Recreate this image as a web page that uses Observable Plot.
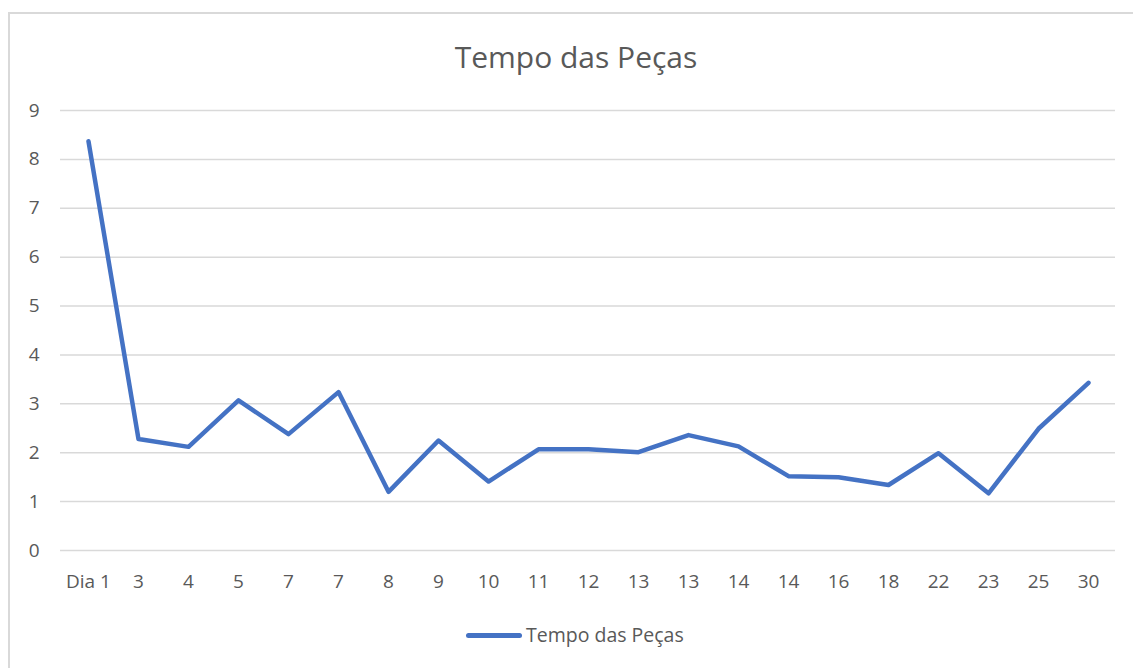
<!DOCTYPE html>
<html>
<head>
<meta charset="utf-8">
<script src="https://cdn.jsdelivr.net/npm/d3@7"></script>
<script src="https://cdn.jsdelivr.net/npm/@observablehq/plot@0.6"></script>
<style>
  html, body { margin: 0; padding: 0; background: #fff; overflow: hidden; }
  body { width: 1133px; height: 668px; position: relative; font-family: "Open Sans", sans-serif; }
  #frame { position: absolute; left: 8px; top: 12px; width: 1140px; height: 700px; border: 2px solid #d9d9d9; box-sizing: border-box; }
  #title { position: absolute; left: 0; width: 1152px; top: 37px; text-align: center; font-size: 30px; color: #595959; line-height: 40px; }
  #chart { position: absolute; left: 0; top: 0; }
  #legend { position: absolute; top: 621px; left: 466px; display: flex; align-items: center; font-size: 19.5px; color: #595959; line-height: 28px; }
  #legend .sw { width: 56px; height: 5px; background: #4472C4; border-radius: 3px; margin-right: 4px; }
</style>
</head>
<body>
<div id="frame"></div>
<div id="title">Tempo das Peças</div>
<div id="chart"></div>
<div id="legend"><span class="sw"></span><span>Tempo das Peças</span></div>
<script>
const categories = ["Dia 1", "3", "4", "5", "7", "7", "8", "9", "10", "11", "12", "13", "13", "14", "14", "16", "18", "22", "23", "25", "30"];
const values = [8.37, 2.28, 2.12, 3.07, 2.38, 3.24, 1.2, 2.25, 1.41, 2.07, 2.07, 2.01, 2.36, 2.13, 1.52, 1.5, 1.34, 1.99, 1.17, 2.49, 3.43];
const yTicks = [0, 1, 2, 3, 4, 5, 6, 7, 8, 9];

const data = values.map((v, i) => ({i, v}));

const plot = Plot.plot({
  width: 1133,
  height: 600,
  marginLeft: 60,
  marginRight: 18,
  marginTop: 110,
  marginBottom: 50,
  style: { fontFamily: "Open Sans, sans-serif", fontSize: "19px", color: "#595959", background: "transparent", overflow: "visible" },
  x: { type: "point", domain: d3.range(categories.length), padding: 0.5, label: null },
  y: { domain: [0, 9], ticks: yTicks, label: null },
  marks: [
    Plot.ruleY(yTicks, { stroke: "#d9d9d9", strokeWidth: 1.5 }),
    Plot.axisX({ tickSize: 0, tickPadding: 24, tickFormat: i => categories[i], fill: "#595959", fontSize: 19, label: null }),
    Plot.axisY({ ticks: yTicks, tickSize: 0, tickPadding: 21, fill: "#595959", fontSize: 19, label: null }),
    Plot.line(data, { x: "i", y: "v", stroke: "#4472C4", strokeWidth: 4.5, strokeLinecap: "round", strokeLinejoin: "round" })
  ]
});
document.getElementById("chart").appendChild(plot);
</script>
</body>
</html>
